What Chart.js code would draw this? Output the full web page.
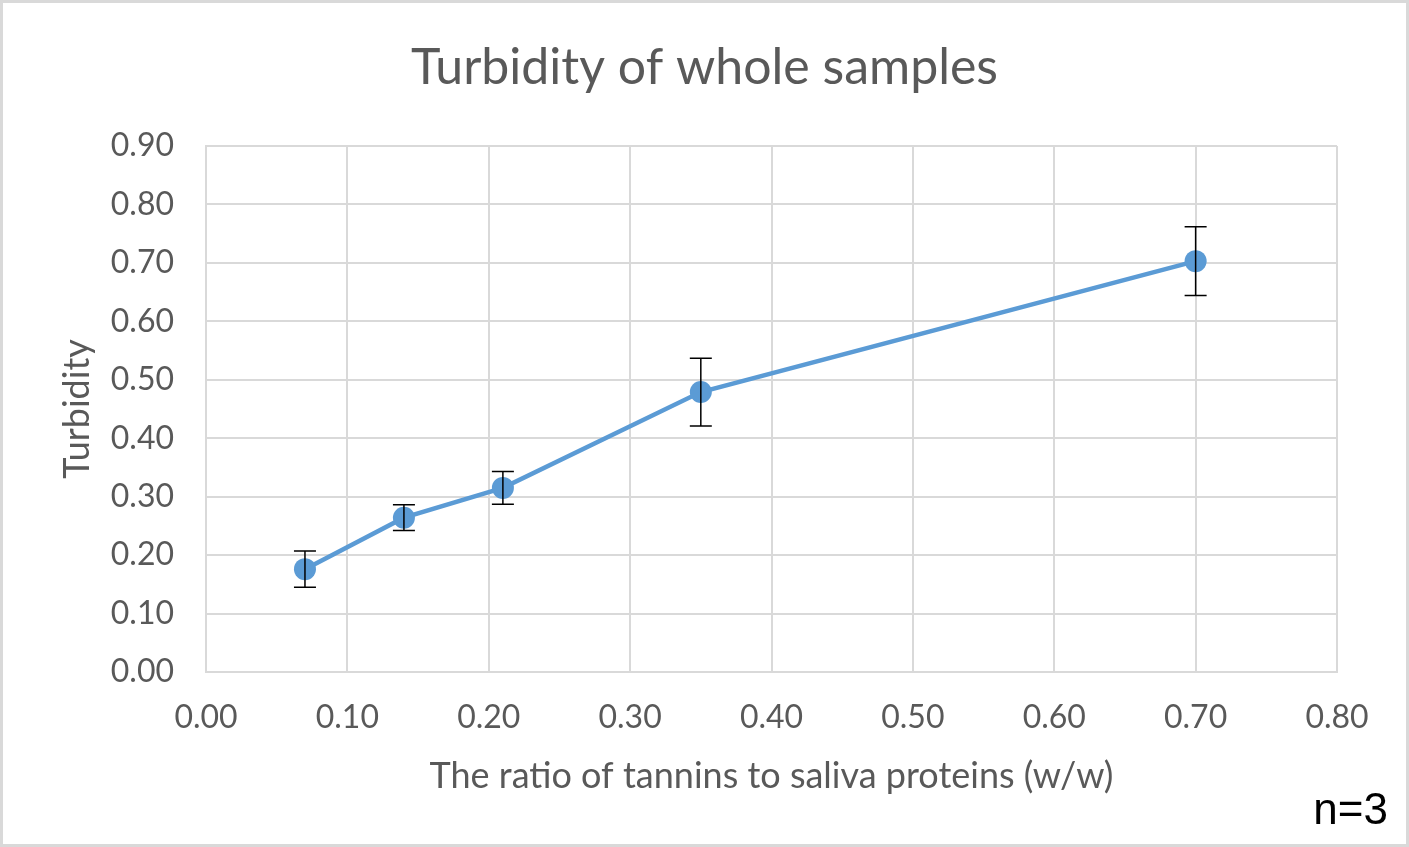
<!DOCTYPE html>
<html>
<head>
<meta charset="utf-8">
<script src="https://cdn.jsdelivr.net/npm/chart.js@4.4.1/dist/chart.umd.min.js"></script>
<style>
  body { margin: 0; background: #fff; }
  #wrap { position: relative; width: 1409px; height: 847px; }
  #frame { position: absolute; left: 0; top: 0; width: 1409px; height: 847px; box-sizing: border-box; border: 3px solid #d9d9d9; pointer-events: none; }
  #note { position: absolute; right: 21px; bottom: 13px; font-family: "Liberation Sans", Arial, sans-serif; font-size: 44px; color: #000; }
</style>
</head>
<body>
<div id="wrap">
  <canvas id="grafico" width="1409" height="847"></canvas>
  <div id="frame"></div>
  <div id="note">n=3</div>
</div>
<script>
// datos
const ratios = [0.07, 0.14, 0.21, 0.35, 0.70];
const turbidity = [0.176, 0.264, 0.315, 0.479, 0.703];
const errors = [0.031, 0.022, 0.028, 0.058, 0.059];

const textGrey = "#595959";
const gridGrey = "#d9d9d9";

// barras de error dibujadas con las escalas del grafico
const errorBars = {
    id: "errorBars",
    afterDatasetsDraw(chart) {
        const ctx = chart.ctx;
        const xs = chart.scales.x, ys = chart.scales.y;
        ctx.save();
        ctx.strokeStyle = "#000";
        ctx.lineWidth = 1.5;
        ratios.forEach((r, i) => {
            const x = xs.getPixelForValue(r);
            const top = ys.getPixelForValue(turbidity[i] + errors[i]);
            const bot = ys.getPixelForValue(turbidity[i] - errors[i]);
            ctx.beginPath();
            ctx.moveTo(x, top); ctx.lineTo(x, bot);
            ctx.moveTo(x - 11, top); ctx.lineTo(x + 11, top);
            ctx.moveTo(x - 11, bot); ctx.lineTo(x + 11, bot);
            ctx.stroke();
        });
        ctx.restore();
    }
};

const ctx = document.getElementById("grafico").getContext("2d");
new Chart(ctx, {
    type: "scatter",
    data: {
        datasets: [{
            label: "Turbidity",
            data: ratios.map((r, i) => ({ x: r, y: turbidity[i] })),
            showLine: true,
            borderColor: "#5b9bd5",
            backgroundColor: "#5b9bd5",
            borderWidth: 4.5,
            pointRadius: 11,
            pointBorderWidth: 0,
            pointHoverRadius: 11
        }]
    },
    plugins: [errorBars],
    options: {
        responsive: false,
        animation: false,
        layout: { padding: { left: 52, right: 52, top: 0, bottom: 45 } },
        plugins: {
            legend: { display: false },
            tooltip: { enabled: false },
            title: {
                display: true,
                text: "Turbidity of whole samples",
                color: textGrey,
                font: { family: "Lato", size: 50, weight: "normal" },
                padding: { top: 38, bottom: 48 }
            }
        },
        scales: {
            x: {
                type: "linear",
                min: 0, max: 0.8,
                afterFit: s => { s.height = 130; },
                grid: { color: gridGrey, lineWidth: 2, drawTicks: false },
                border: { color: gridGrey, width: 2 },
                ticks: {
                    stepSize: 0.1, padding: 26, color: textGrey,
                    font: { family: "Lato", size: 32 },
                    callback: v => v.toFixed(2)
                },
                title: {
                    display: true, text: "The ratio of tannins to saliva proteins (w/w)",
                    color: textGrey, font: { family: "Lato", size: 36 },
                    padding: { top: 0, bottom: 4 }
                }
            },
            y: {
                min: 0, max: 0.9,
                afterFit: s => { s.width = 154; },
                grid: { color: gridGrey, lineWidth: 2, drawTicks: false },
                border: { color: gridGrey, width: 2 },
                ticks: {
                    stepSize: 0.1, padding: 32, color: textGrey,
                    font: { family: "Lato", size: 32 },
                    callback: v => v.toFixed(2)
                },
                title: {
                    display: true, text: "Turbidity",
                    color: textGrey, font: { family: "Lato", size: 36 },
                    padding: { top: 4, bottom: 0 }
                }
            },
            // eje vacio a la derecha, solo para dejar margen
            y2: {
                position: "right",
                afterFit: s => { s.width = 20; },
                grid: { display: false },
                border: { display: false },
                ticks: { display: false }
            }
        }
    }
});
</script>
</body>
</html>
